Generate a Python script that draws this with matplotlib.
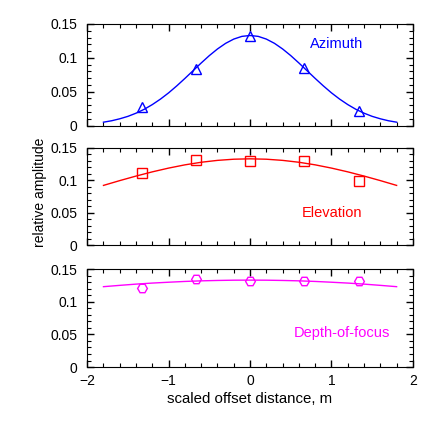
import matplotlib
matplotlib.use("Agg")
import matplotlib.pyplot as plt
from matplotlib.ticker import MultipleLocator

plt.rcParams["font.family"] = "Liberation Sans"
plt.rcParams["font.size"] = 10

# measured offsets (scaled, m)
offsets = [-1.333, -0.667, 0.0, 0.667, 1.333]
azimuth_pts = [0.028, 0.083, 0.132, 0.085, 0.022]
elevation_pts = [0.111, 0.131, 0.130, 0.130, 0.099]
depth_pts = [0.121, 0.134, 0.131, 0.131, 0.132]

# fitted curves
az_x = [-1.8, -1.7, -1.6, -1.5, -1.4, -1.3, -1.2, -1.1, -1.0, -0.9, -0.8,
        -0.7, -0.6, -0.5, -0.4, -0.3, -0.2, -0.1, 0.0, 0.1, 0.2, 0.3, 0.4,
        0.5, 0.6, 0.7, 0.8, 0.9, 1.0, 1.1, 1.2, 1.3, 1.4, 1.5, 1.6, 1.7, 1.8]
az_fit = [0.0050, 0.0071, 0.0100, 0.0136, 0.0183, 0.0240, 0.0310, 0.0391,
          0.0483, 0.0586, 0.0696, 0.0810, 0.0924, 0.1033, 0.1131, 0.1214,
          0.1277, 0.1317, 0.1330, 0.1317, 0.1277, 0.1214, 0.1131, 0.1033,
          0.0924, 0.0810, 0.0696, 0.0586, 0.0483, 0.0391, 0.0310, 0.0240,
          0.0183, 0.0136, 0.0100, 0.0071, 0.0050]

wide_x = [-1.8, -1.6, -1.4, -1.2, -1.0, -0.8, -0.6, -0.4, -0.2, 0.0,
          0.2, 0.4, 0.6, 0.8, 1.0, 1.2, 1.4, 1.6, 1.8]
el_fit = [0.0920, 0.0994, 0.1064, 0.1129, 0.1187, 0.1237, 0.1277, 0.1306,
          0.1324, 0.1330, 0.1324, 0.1306, 0.1277, 0.1237, 0.1187, 0.1129,
          0.1064, 0.0994, 0.0920]
dof_fit = [0.1230, 0.1250, 0.1269, 0.1285, 0.1298, 0.1310, 0.1319, 0.1325,
           0.1329, 0.1330, 0.1329, 0.1325, 0.1319, 0.1310, 0.1298, 0.1285,
           0.1269, 0.1250, 0.1230]

panels = [
    ("Azimuth", az_x, az_fit, azimuth_pts, "#0000ff", "^", (0.767, 0.80)),
    ("Elevation", wide_x, el_fit, elevation_pts, "#ff0000", "s", (0.752, 0.326)),
    ("Depth-of-focus", wide_x, dof_fit, depth_pts, "#ff00ff", "H", (0.782, 0.349)),
]

fig = plt.figure(figsize=(4.36, 4.36), dpi=100)
boxes = [(0.2, 0.712, 0.747, 0.233),
         (0.2, 0.438, 0.747, 0.223),
         (0.2, 0.158, 0.747, 0.225)]

for i, (name, fx, fy, pts, color, marker, txt) in enumerate(panels):
    ax = fig.add_axes(boxes[i])
    ax.plot(fx, fy, color=color, lw=1)
    ax.plot(offsets, pts, linestyle="none", marker=marker, ms=7,
            mfc="none", mec=color, mew=1)
    ax.text(txt[0], txt[1], name, color=color, transform=ax.transAxes,
            ha="center", va="center", fontsize=10.5)
    ax.set_xlim(-2, 2)
    ax.set_ylim(0, 0.15)
    ax.xaxis.set_major_locator(MultipleLocator(1))
    ax.xaxis.set_minor_locator(MultipleLocator(0.2))
    ax.yaxis.set_minor_locator(MultipleLocator(0.01))
    ax.set_yticks([0, 0.05, 0.1, 0.15])
    ax.set_yticklabels(["0", "0.05", "0.1", "0.15"])
    ax.tick_params(which="both", direction="in", top=True, right=True)
    ax.tick_params(which="major", length=5, width=1)
    ax.tick_params(which="minor", length=3, width=0.8)
    ax.tick_params(axis="y", which="major", pad=7)
    ax.tick_params(axis="x", which="major", pad=5)
    if i < 2:
        ax.tick_params(labelbottom=False)
    else:
        ax.set_xticks([-2, -1, 0, 1, 2])
        ax.set_xticklabels(["\u22122", "\u22121", "0", "1", "2"])
        ax.set_xlabel("scaled offset distance, m", labelpad=3, fontsize=10.8)
    if i == 1:
        ax.set_ylabel("relative amplitude")
        ax.yaxis.set_label_coords(-0.123, 0.545)

fig.savefig("out.png", dpi=100)
